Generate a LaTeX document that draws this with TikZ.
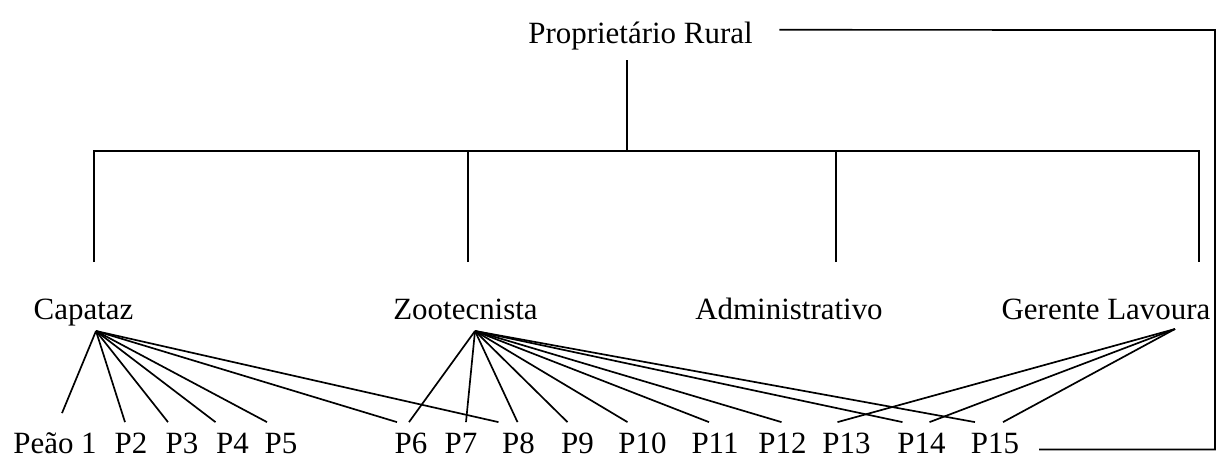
\documentclass[tikz,border=0pt]{standalone}
\usepackage{fontspec}
\setmainfont{Liberation Serif}
\usetikzlibrary{calc}

\begin{document}
\begin{tikzpicture}[x=0.025cm, y=-0.025cm, line width=1.2pt,
  lbl/.style={inner sep=0pt, anchor=base, text height=14.5pt, text depth=0pt,
              font=\fontsize{22}{26}\selectfont},
  worker/.style={lbl, outer xsep=0pt, outer ysep=0.275cm}]
  \useasboundingbox (0,0) rectangle (1216,456);
  % top and second level
  \node[lbl] (prop) at (640.5,43) {Proprietário Rural};
  \node[lbl] (cap) at (83.5,319) {Capataz};
  \node[lbl] (zoo) at (465.5,319) {Zootecnista};
  \node[lbl] (adm) at (789,319) {Administrativo};
  \node[lbl] (ger) at (1106,319) {Gerente Lavoura};
  % bottom row
  \node[worker] (peao) at (55,453.5) {Peão 1};
  \foreach \n/\x in {2/131, 3/182, 4/232.5, 5/281, 6/411, 7/461, 8/518.5,
                     9/577.5, 10/642.5, 11/715, 12/782.5, 13/846.5, 14/921.5, 15/995}
    \node[worker] (p\n) at (\x,453.5) {P\n};
  % bus and drops
  \coordinate (bus) at (627,151);
  \coordinate (dcap) at (94,262);
  \coordinate (dzoo) at (468,262);
  \coordinate (dadm) at (836,262);
  \coordinate (dger) at (1199,262);
  \draw (bus) -- ($(prop.south -| bus)+(0,16)$);
  \draw (dcap) -- (dcap |- bus) -- (dger |- bus) -- (dger);
  \foreach \d in {dzoo, dadm}
    \draw (\d) -- (\d |- bus);
  % fan points
  \coordinate (acap) at (96,331);
  \coordinate (azoo) at (475,331);
  \coordinate (ager) at (1175,329);
  \draw (acap) -- ($(peao.north)+(7,-9)$);
  \foreach \t/\s in {p2/-6, p3/-14, p4/-17, p5/-14, p6/-14, p8/-20}
    \draw (acap) -- ($(\t.north)+(\s,0)$);
  \foreach \t/\s in {p6/-2, p7/5, p8/-1, p9/-10, p10/-15, p11/-6, p12/-1, p14/-19, p15/-20}
    \draw (azoo) -- ($(\t.north)+(\s,0)$);
  \foreach \t/\s in {p13/-9, p14/8, p15/8}
    \draw (ager) -- ($(\t.north)+(\s,0)$);
  % return line
  \draw ($(prop.east)+(26,-3)$) -- (1215,30) |- ($(p15.base east)+(20,-4)$);
\end{tikzpicture}
\end{document}
